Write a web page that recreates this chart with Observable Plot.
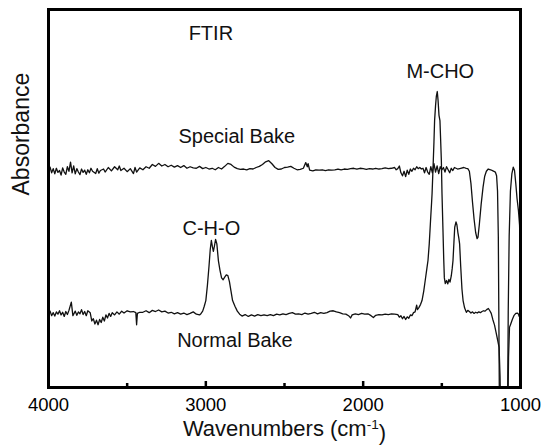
<!DOCTYPE html>
<html><head><meta charset="utf-8">
<script src="https://cdn.jsdelivr.net/npm/d3@7"></script>
<script src="https://cdn.jsdelivr.net/npm/@observablehq/plot@0.6"></script>
<style>body{margin:0;background:#fff;}</style>
</head><body><div id="chart"></div>
<script>
// Special Bake spectrum: [wavenumber, absorbance (arb.)]
const specialBake = [
[4000,57.5],[3990,58.3],[3980,56.8],[3970,57.9],[3960,56.5],[3950,58.0],[3940,56.9],[3930,57.4],[3920,56.2],[3910,58.1],
[3900,57.0],[3890,56.4],[3880,58.4],[3870,57.2],[3860,59.6],[3850,56.8],[3840,58.6],[3830,56.5],[3820,57.9],[3810,57.0],
[3800,56.3],[3790,57.8],[3780,56.9],[3770,57.5],[3760,56.4],[3750,57.6],[3740,56.8],[3730,58.0],[3720,57.2],[3700,56.6],
[3690,57.9],[3680,56.7],[3670,57.4],[3650,57.8],[3640,57.0],[3620,58.2],[3600,57.3],[3580,58.4],[3560,57.6],[3550,58.6],
[3540,57.4],[3520,58.0],[3500,57.1],[3480,57.9],[3460,56.6],[3450,58.2],[3440,57.0],[3420,58.1],[3400,57.6],[3380,58.4],
[3360,58.0],[3340,59.0],[3320,58.5],[3300,59.3],[3280,58.6],[3260,59.0],[3240,58.4],[3220,58.8],[3200,58.3],[3180,58.7],
[3160,58.2],[3140,58.7],[3120,58.0],[3100,58.4],[3080,58.1],[3060,58.0],[3040,58.5],[3020,57.9],[3000,58.2],[2980,57.8],
[2960,58.0],[2940,57.6],[2920,58.2],[2900,57.8],[2880,58.5],[2860,59.3],[2840,59.0],[2820,58.3],[2800,57.9],[2780,57.7],
[2760,57.8],[2740,57.6],[2720,57.9],[2700,57.8],[2680,58.2],[2660,58.5],[2640,59.0],[2620,59.7],[2600,60.0],[2580,59.2],
[2560,58.2],[2540,57.7],[2520,57.8],[2500,58.2],[2480,58.3],[2460,58.5],[2440,58.0],[2420,57.6],[2400,57.7],[2380,58.0],
[2365,59.5],[2355,58.4],[2350,59.2],[2340,57.5],[2320,57.3],[2300,57.6],[2280,57.5],[2260,57.6],[2240,57.4],[2220,57.6],
[2200,57.5],[2180,57.6],[2160,57.8],[2140,57.6],[2120,57.8],[2100,57.7],[2080,57.9],[2060,58.0],[2040,57.8],[2020,58.0],
[2000,57.9],[1980,57.7],[1960,57.9],[1940,57.8],[1920,58.0],[1900,57.8],[1880,57.9],[1860,58.1],[1840,57.9],[1820,58.0],
[1800,58.2],[1790,57.6],[1780,57.9],[1770,58.6],[1760,56.8],[1750,56.0],[1740,57.2],[1730,55.8],[1720,57.5],[1710,56.4],
[1700,57.8],[1690,57.2],[1680,58.0],[1670,57.6],[1660,58.4],[1650,57.9],[1640,58.2],[1630,57.8],[1620,58.0],[1610,56.8],
[1600,58.2],[1590,57.0],[1580,56.4],[1570,58.4],[1560,56.8],[1550,59.2],[1540,57.0],[1530,58.6],[1520,56.6],[1510,58.4],
[1500,57.6],[1490,58.2],[1480,57.0],[1470,58.4],[1460,57.6],[1450,56.8],[1440,58.0],[1430,57.4],[1420,58.2],[1400,57.8],
[1380,58.0],[1360,58.2],[1345,58.0],[1335,57.9],[1325,57.2],[1315,54.0],[1305,49.0],[1295,44.5],[1285,41.0],[1276,39.4],
[1270,39.8],[1262,43.0],[1250,48.5],[1238,53.0],[1228,55.8],[1217,57.2],[1205,57.8],[1190,57.6],[1175,57.3],[1160,57.0],
[1152,56.0],[1146,52.0],[1141,40.0],[1137,15.0],[1134,-5],[1082,-5],[1078,20.0],[1072,40.0],[1064,52.0],[1055,56.5],
[1046,58.3],[1038,57.4],[1030,54.0],[1022,50.0],[1013,46.8],[1006,43.0],[1001,36.0]
];
// Normal Bake spectrum: [wavenumber, absorbance (arb.)]
const normalBake = [
[4000,19.5],[3990,20.2],[3980,19.0],[3970,19.8],[3960,18.9],[3950,20.0],[3940,19.4],[3930,20.3],[3920,19.2],[3910,19.9],
[3900,18.8],[3890,20.1],[3880,19.3],[3870,20.4],[3855,22.6],[3845,19.0],[3830,20.2],[3820,19.1],[3810,20.0],[3800,19.5],
[3790,20.6],[3780,19.3],[3770,20.1],[3760,19.0],[3750,20.3],[3735,19.8],[3725,17.6],[3715,18.2],[3705,16.8],[3695,17.8],
[3685,16.6],[3675,18.0],[3665,17.2],[3655,18.6],[3645,17.6],[3635,19.2],[3625,18.4],[3615,19.6],[3605,18.8],[3595,19.8],
[3580,19.2],[3565,20.0],[3550,19.4],[3535,20.2],[3520,19.7],[3500,20.3],[3480,20.0],[3460,20.1],[3445,19.8],[3440,16.6],
[3435,19.6],[3420,19.9],[3400,19.9],[3380,20.3],[3360,19.8],[3340,20.4],[3320,20.1],[3300,20.5],[3280,20.0],[3260,20.2],
[3240,19.7],[3220,19.9],[3200,19.5],[3180,19.8],[3160,19.4],[3140,19.7],[3120,19.3],[3100,19.6],[3080,20.0],[3060,19.4],
[3040,19.2],[3030,19.6],[3020,20.2],[3010,21.5],[3000,23.0],[2990,27.0],[2980,32.0],[2972,36.5],[2965,38.9],[2958,37.2],
[2952,36.0],[2945,37.5],[2938,39.2],[2930,38.0],[2920,33.5],[2910,31.0],[2900,29.0],[2890,28.5],[2880,29.2],[2870,29.8],
[2860,29.6],[2850,28.0],[2840,25.5],[2830,23.0],[2815,21.5],[2800,20.2],[2785,19.4],[2770,18.9],[2750,19.3],[2730,18.8],
[2710,19.2],[2690,18.9],[2670,19.3],[2650,19.0],[2630,19.2],[2610,19.0],[2590,19.3],[2570,19.0],[2550,19.4],[2530,19.2],
[2510,19.5],[2490,19.3],[2470,19.6],[2450,19.8],[2430,19.4],[2410,19.5],[2390,19.3],[2370,19.7],[2350,19.4],[2330,19.6],
[2310,19.9],[2290,19.5],[2270,19.8],[2250,19.6],[2230,19.8],[2210,20.2],[2190,20.3],[2170,20.0],[2150,19.8],[2130,19.5],
[2110,19.4],[2090,18.9],[2080,18.4],[2070,19.2],[2050,19.5],[2030,19.3],[2010,19.6],[1990,19.4],[1970,19.5],[1950,19.0],
[1935,18.5],[1920,19.1],[1900,19.3],[1880,19.2],[1860,19.4],[1840,19.3],[1820,19.5],[1800,19.4],[1780,19.3],[1770,18.6],
[1760,19.0],[1750,18.2],[1740,18.8],[1730,18.0],[1720,18.7],[1710,18.3],[1700,19.2],[1690,19.0],[1680,19.8],[1670,20.0],
[1660,21.8],[1655,20.6],[1645,21.2],[1635,22.0],[1626,23.0],[1615,25.5],[1605,28.5],[1595,31.5],[1588,33.6],[1580,38.0],
[1572,44.0],[1565,49.0],[1562,51.3],[1556,58.0],[1550,65.0],[1546,70.6],[1540,74.5],[1535,77.0],[1529,78.3],[1524,76.0],
[1518,72.0],[1512,70.6],[1508,66.0],[1503,60.0],[1499,51.3],[1493,42.0],[1488,34.0],[1484,29.0],[1478,27.5],[1470,28.3],
[1462,27.4],[1455,28.6],[1448,27.9],[1440,29.5],[1434,31.5],[1429,33.6],[1423,38.5],[1418,42.4],[1410,43.8],[1404,43.0],
[1398,41.0],[1392,39.5],[1387,38.0],[1380,32.0],[1372,26.0],[1365,23.0],[1355,21.0],[1344,19.9],[1335,20.4],[1325,20.1],
[1315,19.7],[1305,20.0],[1295,19.6],[1285,19.9],[1275,19.7],[1265,20.0],[1255,19.8],[1245,20.1],[1235,20.3],[1225,20.2],
[1215,20.6],[1204,20.9],[1195,20.3],[1186,19.6],[1176,18.0],[1165,16.5],[1155,14.5],[1145,12.5],[1136,10.6],[1130,3.0],
[1127,-5],[1080,-5],[1076,8.0],[1070,15.9],[1062,16.8],[1052,18.0],[1042,19.0],[1030,19.6],[1020,19.7],[1013,19.4],[1008,18.8]
];
const xTicks = [4000, 3000, 2000, 1000];
const xMinorTicks = [3500, 2500, 1500];
const labelText = ["FTIR", "M-CHO", "Special Bake", "C-H-O", "Normal Bake"];
const labelWn = [2968, 1510, 2803, 2965, 2815];
const labelAbs = [93.6, 83.6, 66.4, 42.0, 12.4];

const rows = [
  ...specialBake.map(([w, a]) => ({series: "Special Bake", w, a})),
  ...normalBake.map(([w, a]) => ({series: "Normal Bake", w, a}))
];
const labels = labelText.map((t, i) => ({t, w: labelWn[i], a: labelAbs[i]}));
const font = "'Liberation Sans', Arial, Helvetica, sans-serif";
const plotH = 448 - 9 - 61;

const chart = Plot.plot({
  width: 541, height: 448,
  marginLeft: 48, marginRight: 21, marginTop: 9, marginBottom: 61,
  style: {fontFamily: font, background: "#fff", color: "#000"},
  x: {domain: [4000, 1000]},
  y: {domain: [0, 100], axis: null},
  marks: [
    Plot.line(rows, {x: "w", y: "a", z: "series", stroke: "#111", strokeWidth: 1.3, clip: "frame"}),
    Plot.axisX({ticks: xTicks, tickSize: 0, tickPadding: 10, fontSize: 18.5, tickFormat: d => String(d), label: null}),
    Plot.tickX(xTicks.slice(1, 3), {x: d => d, stroke: "#000", strokeWidth: 2.5, insetTop: plotH - 6}),
    Plot.tickX(xMinorTicks, {x: d => d, stroke: "#000", strokeWidth: 2.5, insetTop: plotH - 4}),
    Plot.frame({stroke: "#000", strokeWidth: 3}),
    Plot.text(labels, {x: "w", y: "a", text: "t", fontSize: 20, fill: "#111"}),
    Plot.text(["Absorbance"], {text: d => d, frameAnchor: "left", rotate: -90, dx: -27, dy: -3, fontSize: 23, fill: "#111"}),
    Plot.text(["Wavenumbers (cm-1)"], {text: d => d, frameAnchor: "bottom", dy: 48, fontSize: 22, fill: "#111"})
  ]
});
document.getElementById("chart").appendChild(chart);
d3.select(chart).selectAll("text").filter(function() { return this.textContent === "Wavenumbers (cm-1)"; })
  .each(function() {
    const t = d3.select(this);
    t.text("");
    t.append("tspan").text("Wavenumbers (cm");
    t.append("tspan").attr("dy", "-0.5em").attr("font-size", "0.62em").text("-1");
    t.append("tspan").attr("dy", "0.5em").text(")");
  });
</script>
</body></html>
